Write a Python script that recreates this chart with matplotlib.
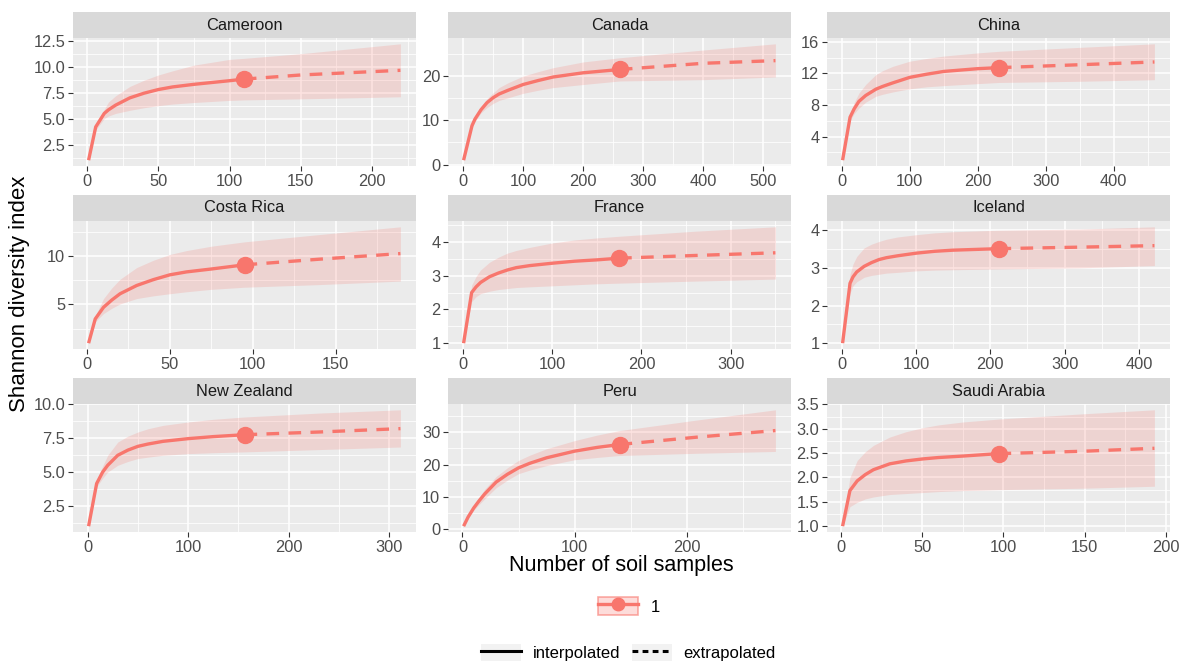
import numpy as np
import matplotlib.pyplot as plt
from matplotlib.lines import Line2D
from matplotlib.patches import Patch
from matplotlib.legend_handler import HandlerTuple

plt.rcParams['font.family'] = ['Liberation Sans', 'DejaVu Sans']

# rarefaction / extrapolation curves
countries = ["Cameroon", "Canada", "China", "Costa Rica", "France", "Iceland",
             "New Zealand", "Peru", "Saudi Arabia"]
n_obs = [110, 261, 231, 95, 175, 211, 156, 140, 97]

x_vals = [
    [1, 6, 12, 15, 20, 30, 40, 50, 60, 75, 100, 110, 150, 220],
    [1, 15, 20, 30, 40, 50, 60, 75, 100, 125, 150, 200, 261, 400, 520],
    [1, 12, 18, 25, 35, 50, 60, 75, 100, 125, 150, 200, 231, 350, 460],
    [1, 5, 10, 15, 20, 30, 40, 50, 60, 75, 95, 140, 189],
    [1, 10, 15, 20, 30, 40, 50, 60, 75, 100, 125, 150, 175, 260, 350],
    [1, 11, 15, 20, 30, 40, 50, 60, 75, 100, 125, 150, 211, 320, 421],
    [1, 9, 15, 20, 30, 40, 50, 60, 75, 100, 125, 156, 230, 311],
    [1, 5, 10, 15, 20, 30, 40, 50, 60, 75, 100, 120, 140, 210, 279],
    [1, 5.5, 10, 15, 20, 30, 40, 50, 60, 75, 97, 150, 193],
]
est_vals = [
    [1, 4.2, 5.5, 5.85, 6.3, 7.0, 7.45, 7.8, 8.05, 8.3, 8.65, 8.8, 9.2, 9.65],
    [1, 8.8, 10.3, 12.4, 14.0, 15.1, 15.95, 16.8, 18.1, 19.0, 19.8, 20.75, 21.5, 22.9, 23.5],
    [1, 6.45, 7.5, 8.45, 9.2, 10.0, 10.35, 10.8, 11.5, 11.9, 12.25, 12.6, 12.73, 13.1, 13.45],
    [1, 3.5, 4.7, 5.45, 6.1, 6.95, 7.55, 8.05, 8.35, 8.65, 9.08, 9.66, 10.24],
    [1, 2.5, 2.67, 2.8, 2.97, 3.08, 3.17, 3.24, 3.3, 3.37, 3.43, 3.47, 3.52, 3.6, 3.68],
    [1, 2.59, 2.76, 2.89, 3.04, 3.14, 3.22, 3.27, 3.32, 3.39, 3.44, 3.47, 3.51, 3.55, 3.59],
    [1, 4.15, 5.0, 5.5, 6.24, 6.62, 6.9, 7.07, 7.27, 7.47, 7.62, 7.76, 7.96, 8.21],
    [1, 3.8, 6.6, 8.9, 11.0, 14.6, 17.0, 19.0, 20.4, 22.1, 24.15, 25.3, 26.2, 28.5, 30.5],
    [1, 1.73, 1.93, 2.06, 2.16, 2.28, 2.34, 2.38, 2.41, 2.44, 2.49, 2.54, 2.6],
]
lo_vals = [
    [1, 3.9, 5.0, 5.25, 5.5, 5.8, 6.05, 6.25, 6.4, 6.55, 6.75, 6.8, 6.9, 7.1],
    [1, 8.3, 9.7, 11.7, 12.9, 13.8, 14.5, 15.1, 16.1, 16.8, 17.4, 18.1, 18.9, 19.2, 19.8],
    [1, 6.0, 6.9, 7.6, 8.35, 9.1, 9.35, 9.65, 10.05, 10.3, 10.45, 10.7, 10.85, 11.0, 11.2],
    [1, 3.2, 4.05, 4.6, 5.05, 5.6, 5.88, 6.1, 6.3, 6.55, 6.77, 7.04, 7.4],
    [1, 2.23, 2.38, 2.47, 2.54, 2.59, 2.62, 2.65, 2.67, 2.7, 2.73, 2.76, 2.78, 2.84, 2.9],
    [1, 2.33, 2.52, 2.63, 2.75, 2.8, 2.83, 2.86, 2.88, 2.92, 2.94, 2.95, 2.97, 3.0, 3.06],
    [1, 3.9, 4.55, 5.0, 5.5, 5.78, 6.0, 6.1, 6.24, 6.36, 6.43, 6.49, 6.66, 6.85],
    [1, 3.5, 5.9, 7.75, 9.5, 12.85, 15.2, 17.2, 18.3, 19.7, 21.5, 22.2, 22.8, 23.5, 24.05],
    [1, 1.4, 1.49, 1.56, 1.6, 1.65, 1.67, 1.69, 1.71, 1.73, 1.75, 1.78, 1.82],
]
hi_vals = [
    [1, 4.5, 5.9, 6.6, 7.2, 8.1, 8.7, 9.2, 9.6, 10.15, 10.7, 10.8, 11.25, 12.2],
    [1, 9.3, 10.9, 13.2, 14.9, 16.2, 17.4, 18.5, 20.0, 21.0, 21.9, 23.2, 24.15, 25.9, 27.3],
    [1, 6.9, 8.3, 9.5, 10.6, 11.85, 12.35, 12.9, 13.55, 13.9, 14.2, 14.6, 14.8, 15.3, 15.75],
    [1, 3.8, 5.6, 6.7, 7.6, 8.8, 9.55, 10.15, 10.55, 11.0, 11.45, 12.2, 13.0],
    [1, 2.72, 2.98, 3.17, 3.4, 3.55, 3.67, 3.75, 3.84, 3.97, 4.06, 4.12, 4.17, 4.32, 4.45],
    [1, 2.83, 3.1, 3.3, 3.53, 3.63, 3.7, 3.76, 3.82, 3.88, 3.93, 3.96, 4.0, 4.03, 4.09],
    [1, 4.4, 5.45, 6.24, 7.22, 7.65, 7.96, 8.2, 8.45, 8.7, 8.9, 9.07, 9.36, 9.6],
    [1, 4.1, 7.4, 10.0, 12.5, 16.3, 19.0, 21.3, 22.9, 24.9, 27.4, 29.1, 30.5, 33.8, 36.9],
    [1, 2.0, 2.35, 2.53, 2.66, 2.83, 2.94, 3.02, 3.08, 3.14, 3.2, 3.31, 3.39],
]

x_ticks = [
    [0, 50, 100, 150, 200],
    [0, 100, 200, 300, 400, 500],
    [0, 100, 200, 300, 400],
    [0, 50, 100, 150],
    [0, 100, 200, 300],
    [0, 100, 200, 300, 400],
    [0, 100, 200, 300],
    [0, 100, 200],
    [0, 50, 100, 150, 200],
]
y_ticks = [
    [2.5, 5.0, 7.5, 10.0, 12.5],
    [0, 10, 20],
    [4, 8, 12, 16],
    [5, 10],
    [1, 2, 3, 4],
    [1, 2, 3, 4],
    [2.5, 5.0, 7.5, 10.0],
    [0, 10, 20, 30],
    [1.0, 1.5, 2.0, 2.5, 3.0, 3.5],
]
y_fmt = ["{:.1f}", "{:g}", "{:g}", "{:g}", "{:g}", "{:g}", "{:.1f}", "{:g}", "{:.1f}"]

RED = "#F8766D"
W, H = 1182, 663

fig = plt.figure(figsize=(W / 100, H / 100), dpi=100)


def box(left, top, width, height):
    return [left / W, 1 - (top + height) / H, width / W, height / H]


def expand(lo, hi):
    d = (hi - lo) * 0.05
    return lo - d, hi + d


def minors(ticks, lim):
    step = ticks[1] - ticks[0]
    mids = [t + step / 2 for t in [ticks[0] - step] + list(ticks)]
    return [m for m in mids if lim[0] <= m <= lim[1]]


col_left = [73, 448, 827]
row_top = [38, 221, 404]
panel_w, panel_h, strip_h = 343, 128, 26

for i, name in enumerate(countries):
    r, c = divmod(i, 3)
    ax = fig.add_axes(box(col_left[c], row_top[r], panel_w, panel_h))
    x = np.array(x_vals[i], dtype=float)
    est = np.array(est_vals[i])
    lo = np.array(lo_vals[i])
    hi = np.array(hi_vals[i])
    k = x_vals[i].index(n_obs[i])

    ax.fill_between(x, lo, hi, color=RED, alpha=0.2, lw=0, zorder=2)
    ax.plot(x[:k + 1], est[:k + 1], color=RED, lw=2.4, solid_capstyle="butt",
            solid_joinstyle="round", zorder=3)
    ax.plot(x[k:], est[k:], color=RED, lw=2.4, ls=(0, (3.8, 2.8)), zorder=3)
    ax.plot(x[k], est[k], "o", color=RED, ms=11.5, zorder=4)

    xlim = expand(x.min(), x.max())
    ylim = expand(min(lo.min(), est.min()), max(hi.max(), est.max()))
    ax.set_xlim(xlim)
    ax.set_ylim(ylim)
    ax.set_xticks(x_ticks[i])
    ax.set_yticks(y_ticks[i])
    ax.set_yticklabels([y_fmt[i].format(v) for v in y_ticks[i]])
    ax.set_xticks(minors(x_ticks[i], xlim), minor=True)
    ax.set_yticks(minors(y_ticks[i], ylim), minor=True)

    ax.set_facecolor("#EBEBEB")
    ax.grid(which="major", color="white", lw=1.1)
    ax.grid(which="minor", color="white", lw=0.55)
    ax.set_axisbelow(True)
    for s in ax.spines.values():
        s.set_visible(False)
    ax.tick_params(which="major", length=3.5, width=0.8, color="#333333",
                   labelsize=11.8, labelcolor="#4D4D4D", pad=2)
    ax.tick_params(which="minor", length=0)

    sx = fig.add_axes(box(col_left[c], row_top[r] - strip_h, panel_w, strip_h))
    sx.set_facecolor("#D9D9D9")
    sx.set_xticks([])
    sx.set_yticks([])
    for s in sx.spines.values():
        s.set_visible(False)
    sx.text(0.5, 0.5, name, ha="center", va="center", fontsize=11.8,
            color="#1A1A1A", transform=sx.transAxes)

fig.text(621.5 / W, 1 - 566 / H, "Number of soil samples", ha="center", va="center",
         fontsize=15.5, color="black")
fig.text(20 / W, 1 - 294 / H, "Shannon diversity index", ha="center", va="center",
         rotation=90, fontsize=16, color="black")

# legends
overlay = {tuple: HandlerTuple(ndivide=1, pad=0)}
key1 = (Patch(facecolor=(0.973, 0.463, 0.427, 0.25), edgecolor=(0.973, 0.463, 0.427, 0.6), lw=1.2),
        Line2D([], [], color=RED, lw=2.4, marker="o", ms=9))
fig.legend([key1], ["1"], handler_map=overlay,
           loc="center left", bbox_to_anchor=(598 / W, 1 - 606 / H),
           frameon=False, borderpad=0, borderaxespad=0, fontsize=12,
           handlelength=2.4, handleheight=1.2, handletextpad=0.75)

bg = "#F2F2F2"
key_i = (Patch(facecolor=bg, edgecolor="none"), Line2D([], [], color="black", lw=2.2))
key_e = (Patch(facecolor=bg, edgecolor="none"),
         Line2D([], [], color="black", lw=2.2, ls=(0, (1.9, 1.4))))
fig.legend([key_i, key_e], ["interpolated", "extrapolated"],
           handler_map=overlay, ncol=2,
           loc="center left", bbox_to_anchor=(481 / W, 1 - 652.5 / H),
           frameon=False, borderpad=0, borderaxespad=0, fontsize=12,
           handlelength=2.4, handleheight=1.2, handletextpad=0.7, columnspacing=0.7)

fig.savefig("out.png", dpi=100)
